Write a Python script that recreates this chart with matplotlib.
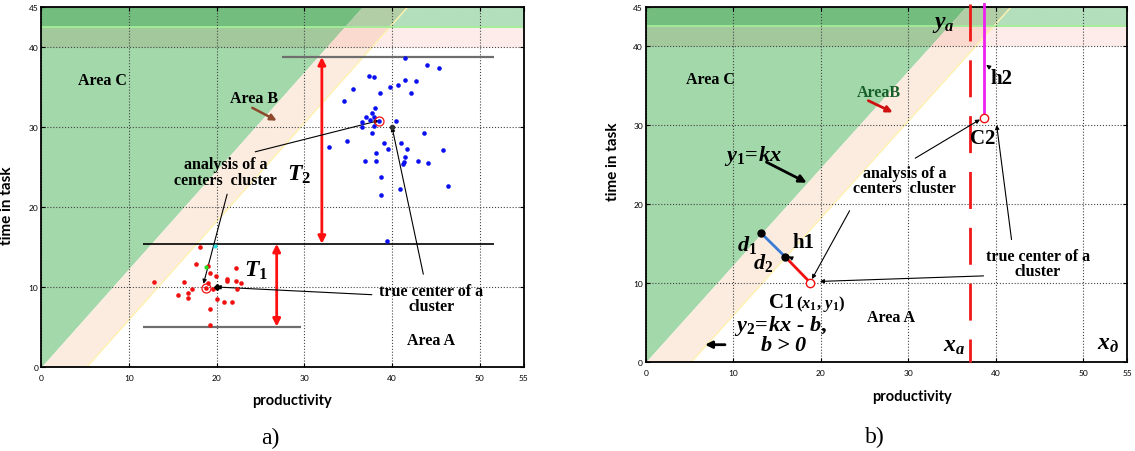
import numpy as np
import matplotlib.pyplot as plt
from matplotlib.patches import Rectangle

plt.rcParams['font.family'] = ['Liberation Serif', 'DejaVu Serif']
plt.rcParams['mathtext.fontset'] = 'custom'
plt.rcParams['mathtext.rm'] = 'Liberation Serif:bold'
plt.rcParams['mathtext.it'] = 'Liberation Serif:italic:bold'
plt.rcParams['mathtext.bf'] = 'Liberation Serif:bold'

# zone boundaries: y1 = k*x (Area C / Area B), y2 = k*x - b (Area B / Area A)
k = 1.23
b = 6.4
band_top = (42.5, 45)
band_mid = (40, 42.5)

x_ticks = [0, 10, 20, 30, 40, 50, 55]
y_ticks = [0, 10, 20, 30, 40, 45]

# panel a) cluster around (40, 30)
blue_x = [41.5, 44.0, 45.4, 37.4, 38.0, 41.45, 42.7, 39.8, 40.7, 35.5, 42.2, 38.6,
          34.5, 38.1, 37.7, 37.0, 38.0, 37.5, 36.6, 40.5, 38.0, 36.6, 37.7, 43.7,
          32.8, 34.9, 39.1, 39.5, 41.0, 41.7, 38.2, 41.5, 45.8, 36.9, 38.2, 41.4,
          41.3, 43.0, 44.1, 38.8, 46.4, 40.9, 38.7, 39.4]
blue_y = [38.6, 37.7, 37.4, 36.4, 36.3, 35.9, 35.8, 35.0, 35.2, 34.7, 34.3, 34.2,
          33.25, 32.4, 31.75, 31.3, 31.2, 30.9, 30.6, 30.8, 30.1, 29.95, 29.25, 29.2,
          27.5, 28.3, 27.95, 27.3, 27.95, 27.3, 26.8, 26.3, 27.1, 25.8, 25.8, 25.6,
          25.4, 25.8, 25.5, 23.75, 22.6, 22.3, 21.5, 15.75]

# panel a) cluster around (20, 10)
red_x = [18.1, 17.7, 19.0, 19.2, 22.2, 19.9, 21.2, 21.15, 22.2, 22.75, 16.25, 12.9,
         19.05, 19.55, 17.2, 16.7, 22.35, 15.6, 16.7, 20.1, 20.8, 21.75, 19.3, 19.3]
red_y = [15.0, 12.9, 12.6, 11.75, 12.4, 11.4, 11.05, 10.8, 10.75, 10.5, 10.6, 10.6,
         10.45, 9.8, 9.75, 9.3, 9.75, 9.0, 8.6, 8.5, 8.15, 8.15, 7.3, 5.3]

# analysis centers and true centers
blue_analysis = (38.5, 30.8)
red_analysis = (18.75, 9.85)
blue_true = (40, 30)
red_true = (20, 10)
green_pt = (18.75, 12.5)
cyan_pt = (19.8, 15.15)

# levels of the time-in-task bands (y, x start, x end)
t2_top = (38.75, 27.4, 51.6)
t_mid = (15.4, 11.65, 51.6)
t1_bottom = (5.05, 11.65, 29.6)
t2_x = 32.0
t1_x = 26.85

# panel b)
xa = 37.05
c1 = (18.8, 10.05)
c2 = (38.66, 30.9)
d1_pt = (13.2, 16.3)
d2_pt = (15.95, 13.3)
c1_true = (19.9, 10.2)
c2_true = (40.1, 30.0)

green = np.array([163, 216, 170]) / 255
peach = np.array([252, 236, 224]) / 255
white = np.array([1.0, 1.0, 1.0])
tint_green = np.array([180, 223, 189]) / 255
tint_pink = np.array([253, 236, 234]) / 255


def draw_zones(ax):
    y = np.linspace(0, 45, 200)
    ax.fill_betweenx(y, 0, y / k, color=green, lw=0, zorder=0.1)
    ax.fill_betweenx(y, y / k, (y + b) / k, color=peach, lw=0, zorder=0.1)
    ax.plot((y + b) / k, y, color='#fff3b0', lw=1, zorder=0.2)
    for (y0, y1), tint in [(band_top, tint_green), (band_mid, tint_pink)]:
        yy = np.linspace(y0, y1, 20)
        ax.fill_betweenx(yy, 0, yy / k, color=green * tint, lw=0, zorder=0.15)
        ax.fill_betweenx(yy, yy / k, (yy + b) / k, color=peach * tint, lw=0, zorder=0.15)
        ax.fill_betweenx(yy, (yy + b) / k, 55, color=white * tint, lw=0, zorder=0.15)
    ax.add_patch(Rectangle((0, band_top[0]), 55, band_top[1] - band_top[0], fill=False,
                           ec='#a4ee98', lw=1.3, zorder=0.3))


def setup(ax, xlab_pos, ylab_pos):
    ax.set_xlim(0, 55)
    ax.set_ylim(0, 45)
    ax.set_xticks(x_ticks)
    ax.set_yticks(y_ticks)
    ax.set_axisbelow(True)
    ax.grid(True, ls=':', color='#444444', lw=0.8)
    ax.tick_params(direction='in', top=True, right=True, length=3, labelsize=6)
    ax.tick_params(axis='x', pad=5)
    ax.tick_params(axis='y', pad=2)
    for lab in ax.get_xticklabels() + ax.get_yticklabels():
        lab.set_family('Lato')
    for sp in ax.spines.values():
        sp.set_linewidth(1.3)
    ax.set_xlabel('productivity', family='Lato', weight='bold', fontsize=10.5)
    ax.set_ylabel('time in task', family='Lato', weight='bold', fontsize=11)
    ax.xaxis.set_label_coords(*xlab_pos)
    ax.yaxis.set_label_coords(*ylab_pos)


def pointer(ax, xy, xytext, lw=0.8, ms=6, shrinkB=0):
    ax.annotate('', xy=xy, xytext=xytext,
                arrowprops=dict(arrowstyle='-|>', color='k', lw=lw, mutation_scale=ms,
                                shrinkA=0, shrinkB=shrinkB))


fig = plt.figure(figsize=(11.35, 4.52), dpi=100)
ax1 = fig.add_axes([0.0363, 0.1858, 0.425, 0.7965])
ax2 = fig.add_axes([0.5689, 0.1969, 0.4241, 0.7865])

lab = dict(fontsize=11.5, weight='bold', ha='center', va='center')

# ---------------- panel a)
draw_zones(ax1)
setup(ax1, (0.52, -0.072), (-0.057, 0.45))

ax1.hlines(t2_top[0], t2_top[1], t2_top[2], color='#6e6e6e', lw=1.6, zorder=2)
ax1.hlines(t_mid[0], t_mid[1], t_mid[2], color='k', lw=1.2, zorder=2)
ax1.hlines(t1_bottom[0], t1_bottom[1], t1_bottom[2], color='#6e6e6e', lw=1.6, zorder=2)
for x, (y0, y1) in [(t2_x, (t_mid[0], t2_top[0])), (t1_x, (t1_bottom[0], t_mid[0]))]:
    ax1.annotate('', xy=(x, y1), xytext=(x, y0),
                 arrowprops=dict(arrowstyle='<|-|>', color='#ff1010', lw=2,
                                 mutation_scale=11, shrinkA=0, shrinkB=0), zorder=3)

ax1.plot(blue_x, blue_y, 'o', color='#0a10f0', ms=3.3, mec='none', zorder=4)
ax1.plot(red_x, red_y, 'o', color='#f01010', ms=3.3, mec='none', zorder=4)
ax1.plot(*blue_analysis, 'o', color='#0a10f0', ms=3.3, mec='none', zorder=5)
ax1.plot(*blue_analysis, 'o', mfc='none', mec='#f01010', ms=6.5, mew=0.9, zorder=5)
ax1.plot(*red_analysis, 'o', color='#f01010', ms=3.3, mec='none', zorder=5)
ax1.plot(*red_analysis, 'o', mfc='none', mec='#f01010', ms=6.5, mew=0.9, zorder=5)
ax1.plot(*green_pt, 'o', color='#20e020', ms=3, mec='none', zorder=5)
ax1.plot(*cyan_pt, 'o', color='#30e0e0', ms=3, mec='none', zorder=5)
ax1.plot(*blue_true, 'o', color='#333333', ms=3, zorder=5)
ax1.plot(*red_true, 'D', color='k', ms=3, zorder=5)

ax1.text(7.0, 35.9, 'Area C', **lab)
ax1.text(24.25, 33.6, 'Area B', **lab)
ax1.annotate('', xy=(26.85, 30.8), xytext=(24.07, 32.4),
             arrowprops=dict(arrowstyle='-|>', ec='#8b4a2b', fc='#e03020', lw=1.8,
                             mutation_scale=9, shrinkA=0, shrinkB=0))
ax1.text(21.0, 24.4, 'analysis of a\ncenters  cluster', linespacing=0.95, **lab)
pointer(ax1, blue_analysis, (24.4, 26.9))
pointer(ax1, (18.5, 10.4), (21.2, 21.6))
ax1.text(44.5, 8.6, 'true center of a\ncluster', linespacing=0.95, **lab)
pointer(ax1, blue_true, (43.57, 11.6))
pointer(ax1, red_true, (37.7, 9.04))
ax1.text(44.45, 3.38, 'Area A', **lab)
ax1.text(29.36, 24.1, '$T_2$', fontsize=17, ha='center', va='center')
ax1.text(24.5, 12.2, '$T_1$', fontsize=17, ha='center', va='center')

# ---------------- panel b)
draw_zones(ax2)
setup(ax2, (0.553, -0.076), (-0.054, 0.565))

ax2.plot([xa, xa], [45.3, 0], color='#f01818', lw=2, dashes=(13.3, 6.8),
         clip_on=False, zorder=3)
ax2.plot([c2[0], c2[0]], [c2[1], 45.3], color='#ee20ee', lw=2, clip_on=False, zorder=3)
ax2.plot([d1_pt[0], d2_pt[0]], [d1_pt[1], d2_pt[1]], color='#3a7bd5', lw=2, zorder=3)
ax2.plot([d2_pt[0], c1[0]], [d2_pt[1], c1[1]], color='#f01010', lw=2, zorder=3)
ax2.plot([d1_pt[0], d2_pt[0]], [d1_pt[1], d2_pt[1]], 'o', color='k', ms=5, zorder=4)
ax2.plot(*c1, 'o', mfc='white', mec='#f01010', ms=6, mew=1, zorder=5)
ax2.plot(*c2, 'o', mfc='white', mec='#f01010', ms=6, mew=1, zorder=5)

ax2.text(7.35, 35.76, 'Area C', **lab)
ax2.text(26.7, 34.2, 'AreaB', color='#17602c', **lab)
ax2.annotate('', xy=(28.23, 31.6), xytext=(25.44, 33.08),
             arrowprops=dict(arrowstyle='-|>', color='#d01010', lw=2,
                             mutation_scale=9, shrinkA=0, shrinkB=0))
ax2.text(12.3, 26.2, '$y_1\\!=\\!kx$', fontsize=16, ha='center', va='center')
pointer(ax2, (18.4, 22.7), (13.8, 25.3), lw=2, ms=11)
ax2.text(29.6, 23.0, 'analysis of a\ncenters  cluster', linespacing=0.95, **lab)
pointer(ax2, (38.2, 30.7), (30.8, 25.8))
pointer(ax2, (19.0, 10.5), (23.3, 19.15))
ax2.text(44.8, 12.5, 'true center of a\ncluster', linespacing=0.95, **lab)
pointer(ax2, c2_true, (41.8, 15.5))
pointer(ax2, c1_true, (38.6, 10.9))
ax2.text(28.07, 5.7, 'Area A', **lab)
ax2.text(34.05, 42.8, '$y_a$', fontsize=17, ha='center', va='center')
ax2.text(35.2, 2.06, '$x_a$', fontsize=17, ha='center', va='center')
ax2.text(52.8, 2.28, '$x_д$', fontsize=17, ha='center', va='center')
ax2.text(40.7, 36.0, 'h2', fontsize=15, weight='bold', ha='center', va='center')
pointer(ax2, (38.9, 37.6), (39.3, 37.3), ms=6)
ax2.text(38.5, 28.35, 'C2', fontsize=15, weight='bold', ha='center', va='center')
ax2.text(17.98, 15.2, 'h1', fontsize=15, weight='bold', ha='center', va='center')
pointer(ax2, (16.3, 13.35), (16.7, 13.15), ms=6)
ax2.text(11.55, 14.9, '$d_1$', fontsize=16, ha='center', va='center')
ax2.text(13.4, 12.66, '$d_2$', fontsize=16, ha='center', va='center')
ax2.text(14.1, 6.9, 'C1', fontsize=15, weight='bold', ha='left', va='baseline')
ax2.text(17.2, 6.9, '$(x_1,\\,y_1)$', fontsize=12, ha='left', va='baseline')
ax2.text(15.35, 4.7, '$y_2\\!=\\!kx$ - $b,$', fontsize=16, style='italic',
         weight='bold', ha='center', va='center')
ax2.text(15.8, 2.15, '$b$ > 0', fontsize=16, style='italic', weight='bold',
         ha='center', va='center')
pointer(ax2, (6.78, 2.19), (9.06, 2.19), lw=2, ms=10)

fig.text(270 / 1135, 1 - 438 / 452, 'a)', fontsize=17, ha='center', va='center')
fig.text(875 / 1135, 1 - 437 / 452, 'b)', fontsize=17, ha='center', va='center')

fig.savefig('out.png', dpi=100)
